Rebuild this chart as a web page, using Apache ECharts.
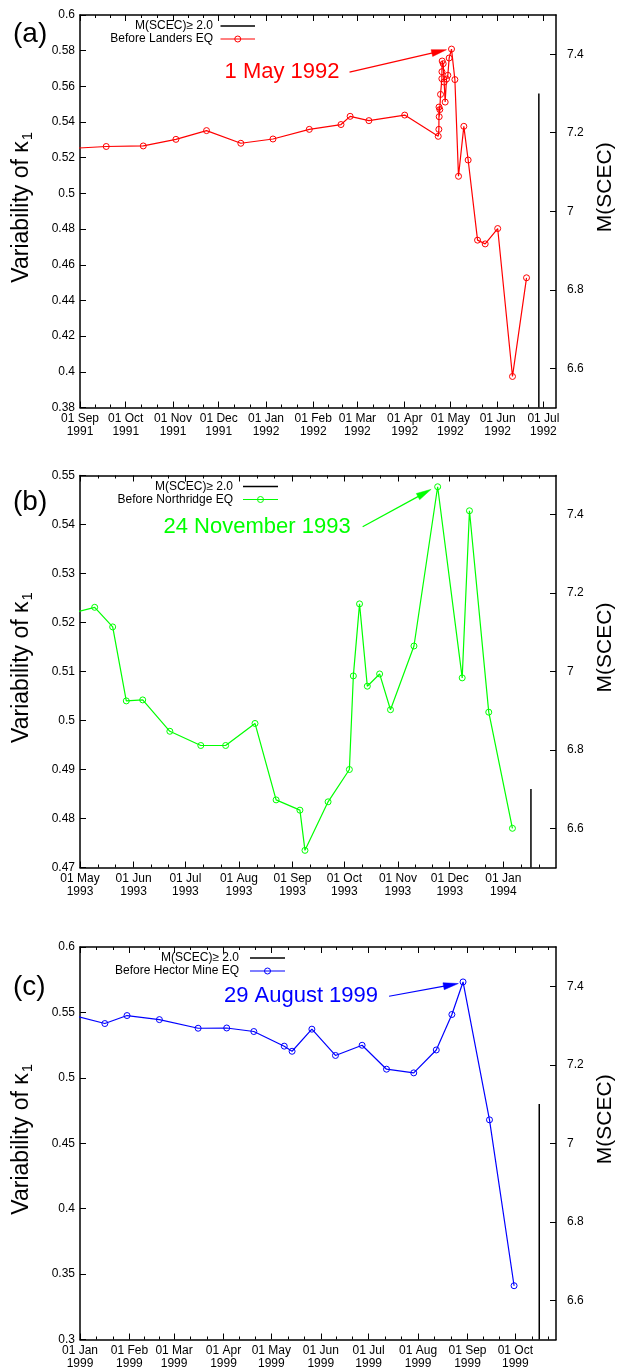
<!DOCTYPE html>
<html><head><meta charset="utf-8">
<script src="https://cdn.jsdelivr.net/npm/echarts@6/dist/echarts.min.js"></script>
<style>html,body{margin:0;padding:0;background:#fff}#c{width:621px;height:1369px}</style>
</head><body><div id="c"></div>
<script>
// ---------------- data ----------------
// (a) before Landers EQ
const datesA = ['1991-08-20','1991-09-18 05:00','1991-10-12 12:00','1991-11-02 22:00','1991-11-23 00:00','1991-12-15 12:00','1992-01-05 14:00','1992-01-29 10:00','1992-02-19 05:00','1992-02-25 05:00','1992-03-08 12:00','1992-04-01 00:00','1992-04-23 00:00','1992-04-23 10:00','1992-04-23 12:00','1992-04-23 15:00','1992-04-24 01:00','1992-04-24 12:00','1992-04-25 09:00','1992-04-25 10:00','1992-04-25 14:00','1992-04-26 06:00','1992-04-26 21:00','1992-04-27 13:00','1992-04-28 10:00','1992-04-29 07:00','1992-04-30 04:00','1992-05-01 17:00','1992-05-03 22:00','1992-05-06 07:00','1992-05-09 19:00','1992-05-12 15:00','1992-05-18 19:00','1992-05-23 19:00','1992-06-01 00:00','1992-06-10 17:00','1992-06-19 22:00'];
const valuesA = [0.5249,0.5263,0.5266,0.5303,0.5352,0.5281,0.5305,0.5359,0.5386,0.5432,0.5408,0.5439,0.5320,0.5359,0.5484,0.5430,0.5470,0.5555,0.5643,0.5682,0.5742,0.5727,0.5624,0.5512,0.5641,0.5662,0.5759,0.5809,0.5638,0.5096,0.5376,0.5187,0.4738,0.4717,0.4803,0.3974,0.4527];
// (b) before Northridge EQ
const datesB = ['1993-04-25','1993-05-09 12:00','1993-05-19 22:00','1993-05-27 19:00','1993-06-06 07:00','1993-06-22 00:00','1993-07-09 22:00','1993-07-24 07:00','1993-08-10 07:00','1993-08-22 12:00','1993-09-05 07:00','1993-09-08 05:00','1993-09-21 14:00','1993-10-03 22:00','1993-10-06 05:00','1993-10-09 19:00','1993-10-14 07:00','1993-10-21 10:00','1993-10-27 17:00','1993-11-10 07:00','1993-11-24 00:00','1993-12-08 05:00','1993-12-12 10:00','1993-12-23 14:00','1994-01-06 07:00'];
const valuesB = [0.5218,0.5231,0.5191,0.5040,0.5042,0.4978,0.4949,0.4949,0.4994,0.4838,0.4817,0.4735,0.4834,0.4900,0.5091,0.5238,0.5070,0.5095,0.5022,0.5152,0.5477,0.5087,0.5428,0.5017,0.4780];
// (c) before Hector Mine EQ
const datesC = ['1998-12-27','1999-01-16 14:00','1999-01-30 12:00','1999-02-19 19:00','1999-03-16 02:00','1999-04-03 00:00','1999-04-20 00:00','1999-05-09 02:00','1999-05-14 00:00','1999-05-26 10:00','1999-06-10 05:00','1999-06-26 22:00','1999-07-12 05:00','1999-07-29 07:00','1999-08-12 10:00','1999-08-22 05:00','1999-08-29 05:00','1999-09-14 19:00','1999-09-30 05:00'];
const valuesC = [0.548,0.5415,0.5476,0.5445,0.5379,0.5381,0.5354,0.5242,0.5203,0.5372,0.5171,0.5249,0.5066,0.5038,0.5213,0.5484,0.5733,0.4679,0.3411];

// main shocks, M(SCEC)
const quakeDates = ['1992-06-28','1994-01-17','1999-10-16'];
const quakeMags = [7.3, 6.7, 7.1];
const seriesNames = ['Before Landers EQ','Before Northridge EQ','Before Hector Mine EQ'];
const peakLabels = ['1 May 1992','24 November 1993','29 August 1999'];
const panelLetters = ['(a)','(b)','(c)'];
const seriesColors = ['#ff0000','#00ff00','#0000ff'];

// axes
const xMins = ['1991-09-01','1993-05-01','1999-01-01'];
const xMaxs = ['1992-07-09 06:00','1994-01-31 12:00','1999-10-26 12:00'];
const yMins = [0.38, 0.47, 0.30];
const yMaxs = [0.60, 0.55, 0.60];
const yIntervals = [0.02, 0.01, 0.05];
const rightMin = 6.5, rightMax = 7.5;
const rightTicks = [6.6, 6.8, 7, 7.2, 7.4];
const MONTHS = ['Jan','Feb','Mar','Apr','May','Jun','Jul','Aug','Sep','Oct','Nov','Dec'];

// ---------------- helpers ----------------
function t(s){
  const p = s.split(' ');
  const d = p[0].split('-').map(Number);
  const h = (p[1] || '00:00').split(':').map(Number);
  return new Date(d[0], d[1]-1, d[2], h[0], h[1]).getTime();
}
function monthTicks(min, max){
  const majors = [], minors = [];
  const d0 = new Date(min);
  let y = d0.getFullYear(), m = d0.getMonth();
  let cur = new Date(y, m, 1).getTime();
  if (cur < min) { m++; cur = new Date(y, m, 1).getTime(); }
  while (cur <= max) {
    const next = new Date(y, m + 1, 1).getTime();
    majors.push(cur);
    for (let k = 1; k <= 2; k++) {
      const v = cur + (next - cur) * k / 3;
      if (v <= max) minors.push(v);
    }
    m++; cur = next;
  }
  return {majors, minors};
}
function fmtMonth(v){
  const d = new Date(v);
  return '01 ' + MONTHS[d.getMonth()] + '\n' + d.getFullYear();
}

const FONT = 'Liberation Sans, Arial, Helvetica, sans-serif';
const layout = [
  {top: 15, height: 392.5, legendRight: 213, legendLine: [220.5, 255], labelY: 34, arrowStart: [-102, 23], arrowTip: [-5, 0.6], textGap: 10},
  {top: 475.5, height: 392, legendRight: 233, legendLine: [243, 278], labelY: 502.5, arrowStart: [-75, 40], arrowTip: [-6.5, 2.6], textGap: 12},
  {top: 947, height: 392.5, legendRight: 239, legendLine: [250, 285], labelY: 987.5, arrowStart: [-74, 14.3], arrowTip: [-4.7, 1.6], textGap: 11}
];
const LEFT = 80, WIDTH = 476;

const panels = [
  {dates: datesA, values: valuesA},
  {dates: datesB, values: valuesB},
  {dates: datesC, values: valuesC}
];

const grid = [], xAxis = [], yAxis = [], series = [];
panels.forEach((p, i) => {
  const L = layout[i];
  const xmin = t(xMins[i]), xmax = t(xMaxs[i]);
  const ticks = monthTicks(xmin, xmax);
  grid.push({left: LEFT, width: WIDTH, top: L.top, height: L.height, outerBoundsMode: 'none', containLabel: false});
  const baseX = {type: 'value', gridIndex: i, min: xmin, max: xmax, scale: true, splitLine: {show: false}};
  xAxis.push(Object.assign({}, baseX, {
    position: 'bottom',
    axisLine: {show: true, onZero: false, lineStyle: {color: '#000', width: 1.5}},
    axisTick: {show: true, inside: true, length: 6, customValues: ticks.majors, lineStyle: {color: '#000', width: 1}},
    axisLabel: {show: true, customValues: ticks.majors, formatter: fmtMonth, hideOverlap: false,
      fontFamily: FONT, fontSize: 12, lineHeight: 12.5, color: '#000', margin: 5}
  }));
  xAxis.push(Object.assign({}, baseX, {
    position: 'bottom',
    axisLine: {show: false, onZero: false},
    axisTick: {show: true, inside: true, length: 3, customValues: ticks.minors, lineStyle: {color: '#000', width: 1}},
    axisLabel: {show: false}
  }));
  xAxis.push(Object.assign({}, baseX, {
    position: 'top',
    axisLine: {show: true, onZero: false, lineStyle: {color: '#000', width: 1.5}},
    axisTick: {show: true, inside: true, length: 6, customValues: ticks.majors, lineStyle: {color: '#000', width: 1}},
    axisLabel: {show: false}
  }));
  xAxis.push(Object.assign({}, baseX, {
    position: 'top',
    axisLine: {show: false, onZero: false},
    axisTick: {show: true, inside: true, length: 3, customValues: ticks.minors, lineStyle: {color: '#000', width: 1}},
    axisLabel: {show: false}
  }));
  yAxis.push({
    type: 'value', gridIndex: i, position: 'left', min: yMins[i], max: yMaxs[i], interval: yIntervals[i],
    splitLine: {show: false},
    axisLine: {show: true, onZero: false, lineStyle: {color: '#000', width: 1.5}},
    axisTick: {show: true, inside: true, length: 6, lineStyle: {color: '#000', width: 1}},
    axisLabel: {fontFamily: FONT, fontSize: 12, color: '#000', margin: 5}
  });
  yAxis.push({
    type: 'value', gridIndex: i, position: 'right', min: rightMin, max: rightMax,
    splitLine: {show: false},
    axisLine: {show: true, onZero: false, lineStyle: {color: '#000', width: 1.5}},
    axisTick: {show: true, inside: true, length: 6, customValues: rightTicks, lineStyle: {color: '#000', width: 1}},
    axisLabel: {customValues: rightTicks, fontFamily: FONT, fontSize: 12, color: '#000', margin: 11}
  });
  series.push({
    type: 'line', name: seriesNames[i], xAxisIndex: 4*i, yAxisIndex: 2*i,
    data: p.dates.map((d, k) => [t(d), p.values[k]]),
    symbol: 'circle', symbolSize: 6, showSymbol: true,
    lineStyle: {color: seriesColors[i], width: 1.2},
    itemStyle: {color: 'rgba(0,0,0,0)', borderColor: seriesColors[i], borderWidth: 1},
    clip: true, animation: false, z: 3
  });
  series.push({
    type: 'line', name: 'M(SCEC)≥ 2.0', xAxisIndex: 4*i, yAxisIndex: 2*i + 1,
    data: [[t(quakeDates[i]), rightMin], [t(quakeDates[i]), quakeMags[i]]],
    symbol: 'none', lineStyle: {color: '#000', width: 1.5}, animation: false, z: 2
  });
});

const chart = echarts.init(document.getElementById('c'), null, {renderer: 'canvas'});
chart.setOption({animation: false, backgroundColor: '#fff', grid, xAxis, yAxis, series});

// ---------------- annotations, keys, labels ----------------
const g = [];
panels.forEach((p, i) => {
  const L = layout[i];
  const col = seriesColors[i];
  g.push({type: 'text', x: 13, y: L.labelY, style: {text: panelLetters[i], font: '28px ' + FONT, fill: '#000', textAlign: 'left', textVerticalAlign: 'middle'}});
  const cy = L.top + L.height / 2;
  g.push({type: 'text', x: 22, y: cy - 4, rotation: Math.PI / 2,
    style: {text: 'Variability of κ{s|1}', fontFamily: FONT, fontSize: 23, fill: '#000', align: 'center', verticalAlign: 'middle',
      rich: {s: {fontFamily: FONT, fontSize: 15, fill: '#000', verticalAlign: 'bottom', padding: [11, 0, 0, 1]}}}});
  g.push({type: 'text', x: 605, y: cy - 24, rotation: Math.PI / 2,
    style: {text: 'M(SCEC)', fontFamily: FONT, fontSize: 21, fill: '#000', align: 'center', verticalAlign: 'middle'}});
  const r1 = L.top + 11, r2 = L.top + 24;
  g.push({type: 'text', x: L.legendRight, y: r1, style: {text: 'M(SCEC)≥ 2.0', font: '12px ' + FONT, fill: '#000', textAlign: 'right', textVerticalAlign: 'middle'}});
  g.push({type: 'line', shape: {x1: L.legendLine[0], y1: r1, x2: L.legendLine[1], y2: r1}, style: {stroke: '#000', lineWidth: 1.5}});
  g.push({type: 'text', x: L.legendRight, y: r2, style: {text: seriesNames[i], font: '12px ' + FONT, fill: '#000', textAlign: 'right', textVerticalAlign: 'middle'}});
  g.push({type: 'line', shape: {x1: L.legendLine[0], y1: r2, x2: L.legendLine[1], y2: r2}, style: {stroke: col, lineWidth: 1.2}});
  g.push({type: 'circle', shape: {cx: (L.legendLine[0] + L.legendLine[1]) / 2, cy: r2, r: 3}, style: {fill: 'none', stroke: col, lineWidth: 1}});
  let k = 0;
  p.values.forEach((v, j) => { if (v > p.values[k]) k = j; });
  const pk = chart.convertToPixel({xAxisIndex: 4*i, yAxisIndex: 2*i}, [t(p.dates[k]), p.values[k]]);
  const sx = pk[0] + L.arrowStart[0], sy = pk[1] + L.arrowStart[1];
  const tx = pk[0] + L.arrowTip[0], ty = pk[1] + L.arrowTip[1];
  const dx = tx - sx, dy = ty - sy, len = Math.hypot(dx, dy), ux = dx / len, uy = dy / len;
  const hl = 15, hw = 3.5;
  const bx = tx - ux * hl, by = ty - uy * hl;
  g.push({type: 'line', shape: {x1: sx, y1: sy, x2: bx + ux * 2, y2: by + uy * 2}, style: {stroke: col, lineWidth: 1.2}});
  g.push({type: 'polygon', shape: {points: [[tx, ty], [bx - uy * hw, by + ux * hw], [bx + uy * hw, by - ux * hw]]}, style: {fill: col, stroke: col, lineWidth: 0.5}});
  g.push({type: 'text', x: sx - L.textGap, y: sy, style: {text: peakLabels[i], font: '22px ' + FONT, fill: col, textAlign: 'right', textVerticalAlign: 'middle'}});
});
chart.setOption({graphic: g});
</script>
</body></html>
